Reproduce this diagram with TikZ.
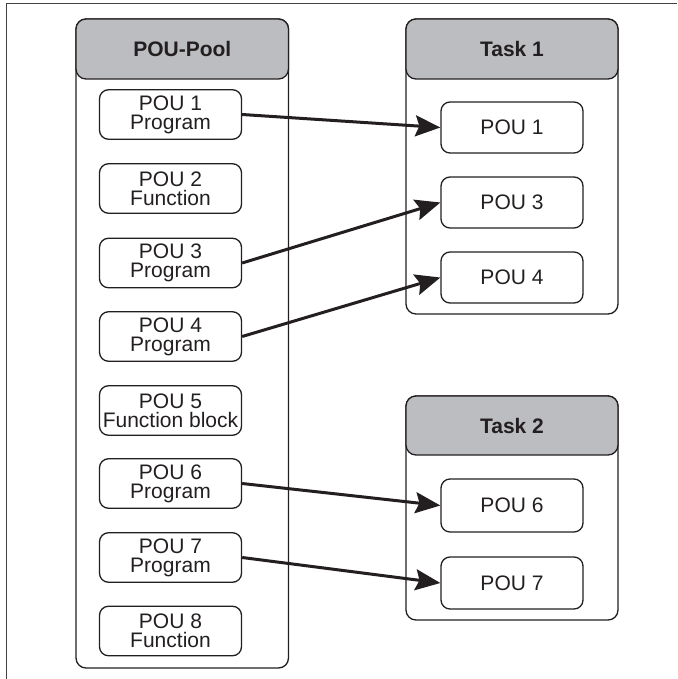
\documentclass[tikz,border=0pt]{standalone}
\usepackage{fontspec}
\setmainfont{Liberation Sans}
\usetikzlibrary{arrows.meta}
\definecolor{ink}{HTML}{231F20}
\definecolor{hdr}{HTML}{BCBDC0}
\tikzset{
  panel/.style={draw=ink, line width=1.3pt, rounded corners=10pt, fill=white, inner sep=0pt},
  header/.style={draw=ink, line width=1.3pt, rounded corners=10pt, fill=hdr, inner sep=0pt,
    font=\fontsize{21}{21}\selectfont\bfseries, text=ink},
  pou/.style={draw=ink, line width=1.3pt, rounded corners=9pt, fill=white, inner sep=0pt,
    minimum width=142pt, align=center, text=ink,
    font=\fontsize{21}{19}\selectfont},
  link/.style={draw=ink, line width=3pt, -{Stealth[length=25pt,width=21pt,inset=4pt]}},
  frame/.style={draw=ink!85, line width=1.4pt}
}
\begin{document}
\begin{tikzpicture}[x=1pt,y=-1pt]
\useasboundingbox (0,0) rectangle (677,679);
% outer frame (only top and left edges visible)
\coordinate (fa) at (6.5,679);
\coordinate (fb) at (6.5,3.3);
\coordinate (fc) at (677,3.3);
\draw[frame] (fa) -- (fb) -- (fc);

% POU-Pool
\node[panel, minimum width=212.5pt, minimum height=649pt] (pool) at (182.25,343.5) {};
\node[header, minimum width=212.5pt, minimum height=60pt] (poolh) at (182.25,49) {POU-Pool};
\node[pou, minimum height=49.5pt] (p1) at (170.5,114.5) {POU 1\\Program};
\node[pou, minimum height=49.5pt] (p2) at (170.5,188.5) {POU 2\\Function};
\node[pou, minimum height=49.5pt] (p3) at (170.5,263) {POU 3\\Program};
\node[pou, minimum height=49.5pt] (p4) at (170.5,336.5) {POU 4\\Program};
\node[pou, minimum height=49.5pt] (p5) at (170.5,410.5) {POU 5\\Function block};
\node[pou, minimum height=49.5pt] (p6) at (170.5,483.5) {POU 6\\Program};
\node[pou, minimum height=49.5pt] (p7) at (170.5,557.5) {POU 7\\Program};
\node[pou, minimum height=49.5pt] (p8) at (170.5,631) {POU 8\\Function};

% Task 1
\node[panel, minimum width=212pt, minimum height=295pt] (t1) at (512,166.5) {};
\node[header, minimum width=212pt, minimum height=60pt] (t1h) at (512,49) {Task 1};
\node[pou, minimum height=51pt] (a1) at (512,127.5) {POU 1};
\node[pou, minimum height=51pt] (a3) at (512,202.5) {POU 3};
\node[pou, minimum height=51pt] (a4) at (512,277.5) {POU 4};

% Task 2
\node[panel, minimum width=212pt, minimum height=224pt] (t2) at (512,508) {};
\node[header, minimum width=212pt, minimum height=59pt] (t2h) at (512,425.5) {Task 2};
\node[pou, minimum height=53pt] (b6) at (512,505.5) {POU 6};
\node[pou, minimum height=52pt] (b7) at (512,583) {POU 7};

% connectors
\draw[link] (p1.east) -- (a1.west);
\draw[link] (p3.east) -- (a3.west);
\draw[link] (p4.east) -- (a4.west);
\draw[link] (p6.east) -- (b6.west);
\draw[link] (p7.east) -- (b7.west);
\end{tikzpicture}
\end{document}
